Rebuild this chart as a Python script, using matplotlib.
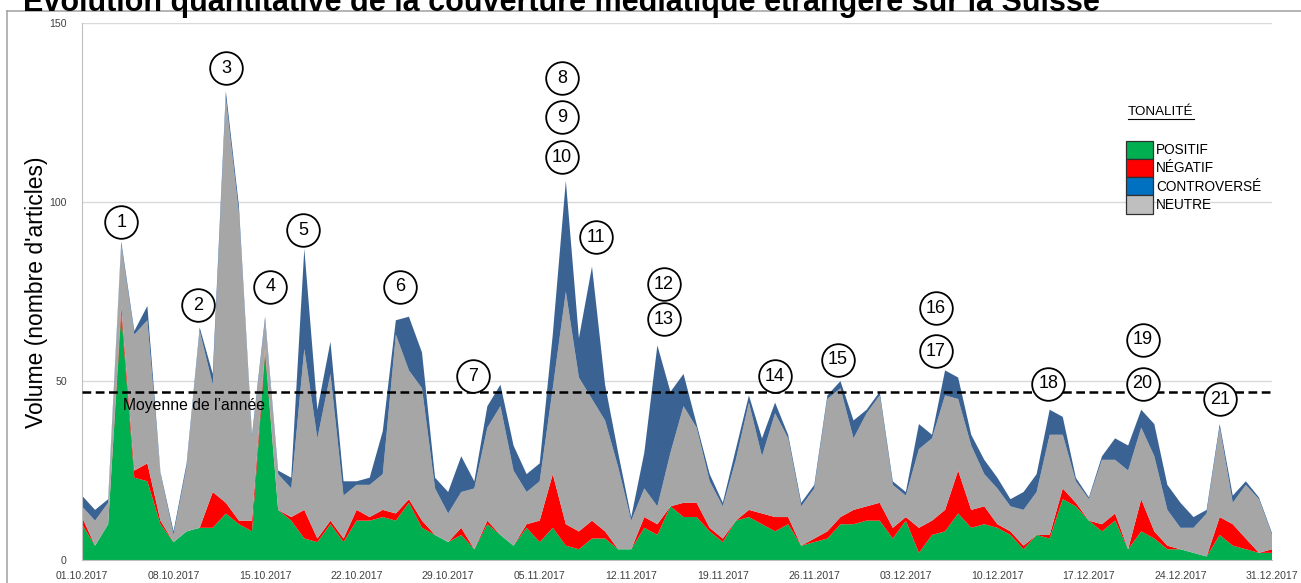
import matplotlib
matplotlib.use("Agg")
import matplotlib.pyplot as plt
import matplotlib.dates as mdates
from matplotlib.patches import Rectangle
from matplotlib.lines import Line2D
import numpy as np
import pandas as pd

plt.rcParams['font.family'] = ['Liberation Sans', 'DejaVu Sans']

# ---------------- data ----------------
dates = pd.date_range('2017-10-01', '2017-12-31', freq='D')

positif = [10, 4, 10, 69, 23, 22, 10, 5, 8, 9,
           9, 13, 10, 8, 58, 14, 11, 6, 5, 10,
           5, 11, 11, 12, 11, 16, 9, 7, 5, 7,
           3, 10, 7, 4, 9, 5, 9, 4, 3, 6,
           6, 3, 3, 9, 7, 15, 12, 12, 8, 5,
           11, 12, 10, 8, 10, 4, 5, 6, 10, 10,
           11, 11, 6, 11, 2, 7, 8, 13, 9, 10,
           9, 7, 3, 7, 6, 17, 15, 11, 8, 11,
           3, 8, 6, 3, 3, 2, 1, 7, 4, 3,
           2, 2]
negatif = [2, 0, 0, 2, 2, 5, 1, 0, 0, 0,
           10, 3, 1, 3, 1, 0, 1, 8, 1, 1,
           1, 3, 1, 2, 2, 1, 2, 0, 0, 2,
           0, 1, 0, 0, 1, 6, 15, 6, 5, 5,
           2, 0, 0, 3, 3, 0, 4, 4, 1, 1,
           0, 2, 3, 4, 2, 0, 1, 2, 2, 4,
           4, 5, 3, 1, 7, 4, 6, 12, 5, 5,
           1, 1, 1, 0, 1, 3, 1, 0, 2, 2,
           0, 9, 2, 1, 0, 0, 0, 5, 6, 3,
           0, 1]
neutre = [3, 7, 6, 17, 38, 40, 13, 2, 18, 55,
          30, 113, 86, 23, 8, 10, 8, 45, 28, 41,
          12, 7, 9, 10, 50, 36, 37, 13, 8, 10,
          17, 26, 36, 21, 9, 11, 24, 65, 43, 34,
          31, 23, 8, 8, 5, 15, 27, 21, 13, 9,
          17, 30, 16, 29, 22, 11, 14, 37, 36, 20,
          26, 30, 12, 6, 22, 23, 32, 20, 18, 9,
          10, 7, 10, 12, 28, 15, 6, 6, 18, 15,
          22, 20, 21, 10, 6, 7, 12, 25, 6, 15,
          15, 4]
controverse = [3, 3, 1, 1, 1, 4, 0.5, 1, 1, 1,
               3, 2, 2, 1, 1, 1, 3, 28, 8, 9,
               4, 1, 2, 12, 4, 15, 10, 3, 6, 10,
               2, 6, 6, 7, 5, 5, 15, 31, 11, 37,
               10, 4, 1, 10, 45, 17, 9, 1, 2, 1,
               3, 2, 5, 3, 1, 1, 1, 1, 2, 5,
               1, 1, 1, 1, 7, 1, 7, 6, 3, 4,
               3, 2, 5, 5, 7, 5, 1, 0.5, 1, 6,
               7, 5, 9, 7, 7, 3, 1, 1, 2, 1,
               0.5, 0.5]

moyenne = 47
series_names = ['POSITIF', 'NÉGATIF', 'CONTROVERSÉ', 'NEUTRE']
legend_colors = ['#00B050', '#FF0000', '#0070C0', '#BFBFBF']

# annotation labels: (label, day offset from start, y value)
annot_labels = ['1', '2', '3', '4', '5', '6', '7', '8', '9', '10', '11',
                '12', '13', '14', '15', '16', '17', '18', '19', '20', '21']
annot_day = [3.0, 8.9, 11.0, 14.4, 16.9, 24.3, 29.9, 36.7, 36.7, 36.7, 39.3,
             44.5, 44.5, 53.0, 57.8, 65.3, 65.3, 73.9, 81.1, 81.1, 87.0]
annot_val = [94.4, 71.2, 137.4, 76.3, 92.2, 76.3, 51.4, 134.6, 123.7, 112.6, 90.2,
             77.1, 67.3, 51.4, 55.9, 70.4, 58.4, 49.2, 61.5, 49.2, 44.9]

# ---------------- figure ----------------
W, H = 1301, 583
fig = plt.figure(figsize=(W / 100, H / 100), dpi=100)
ax = fig.add_axes([82 / W, 23 / H, 1190 / W, (560 - 23.3) / H])

area_colors = ['#00B050', '#FF0000', '#A6A6A6', '#3A6394']
ax.stackplot(dates, positif, negatif, neutre, controverse,
             colors=area_colors, linewidth=0, zorder=2)

ax.set_xlim(dates[0], dates[-1])
ax.set_ylim(0, 150)
ax.set_yticks([0, 50, 100, 150])
ax.set_xticks(dates[::7])
ax.xaxis.set_major_formatter(mdates.DateFormatter('%d.%m.%Y'))
ax.tick_params(axis='both', length=0, labelsize=7.6, labelcolor='#404040')
ax.tick_params(axis='y', pad=11)
ax.tick_params(axis='x', pad=8)
ax.grid(axis='y', color='#D9D9D9', linewidth=1.0, zorder=0)
ax.set_axisbelow(True)
for s in ['top', 'right']:
    ax.spines[s].set_visible(False)
ax.spines['left'].set_color('#BFBFBF')
ax.spines['bottom'].set_color('#BFBFBF')

# mean line
ax.axhline(moyenne, color='black', linewidth=1.8, dashes=(3.5, 1.8), zorder=3)
x0 = mdates.date2num(dates[0])
ax.text(x0 + 3.1, moyenne - 3.7, 'Moyenne de l’année', fontsize=11.3,
        va='center', ha='left', color='black', zorder=4)

# annotations (numbered circles)
ax_x = [x0 + d for d in annot_day]
ax.plot(ax_x, annot_val, 'o', ms=23.5, mfc='white', mec='black', mew=1.3,
        zorder=5, clip_on=False)
for lab, xx, yy in zip(annot_labels, ax_x, annot_val):
    ax.text(xx, yy, lab, ha='center', va='center', fontsize=13, zorder=6)

fig.text(37 / W, 1 - 292 / H, "Volume (nombre d'articles)", rotation=90,
         ha='center', va='center', fontsize=16.5, color='black')

# ---------------- overlay (frame, title, legend) ----------------
oax = fig.add_axes([0, 0, 1, 1], facecolor='none')
oax.set_xlim(0, W)
oax.set_ylim(H, 0)
oax.axis('off')

oax.add_line(Line2D([7.3, 7.3], [10.7, H + 5], color='#A0A0A0', lw=1.1))
oax.add_line(Line2D([7.3, W + 5], [10.7, 10.7], color='#A0A0A0', lw=1.1))

oax.text(23, 10.5, 'Évolution quantitative de la couverture médiatique étrangère sur la Suisse',
         fontsize=22, fontweight='bold', ha='left', va='baseline')

# legend
oax.text(1128, 112, 'TONALITÉ', fontsize=9.6, ha='left', va='center')
oax.add_line(Line2D([1128, 1194], [119, 119], color='black', lw=0.8))
box_top = 140.5
box_h = 18.3
for i, (name, col) in enumerate(zip(series_names, legend_colors)):
    y = box_top + i * box_h
    oax.add_patch(Rectangle((1125.5, y), 27.5, box_h, facecolor=col,
                            edgecolor='#303030', lw=0.9))
    oax.text(1156, y + box_h / 2 + 0.5, name, fontsize=9.8, ha='left', va='center')

fig.savefig('out.png', dpi=100)
